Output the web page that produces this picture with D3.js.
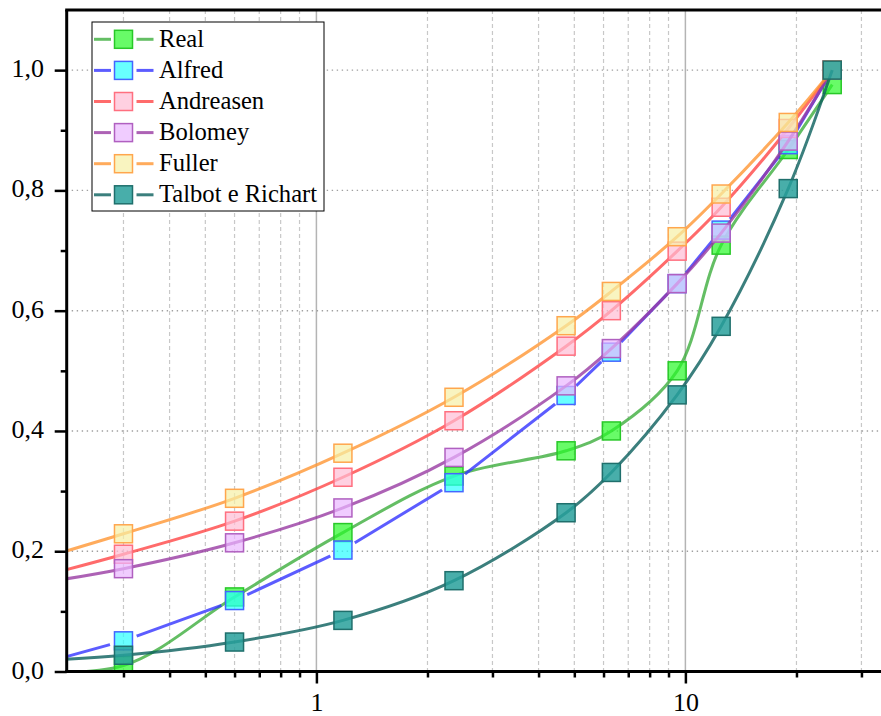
<!DOCTYPE html>
<html>
<head>
<meta charset="utf-8">
<script src="https://cdn.jsdelivr.net/npm/d3@7"></script>
<style>
  body { margin: 0; background: #fff; }
  svg { display: block; }
  svg text { font-family: "Liberation Serif", "Times New Roman", serif; }
</style>
</head>
<body>
<svg id="chart" width="881" height="716"></svg>
<script>
// Sieve openings (mm) and cumulative passing fractions for each grading curve
const sieves    = [0.15, 0.3, 0.6, 1.18, 2.36, 4.75, 6.3, 9.5, 12.5, 19, 25];
const real      = [0.000, 0.010, 0.124, 0.231, 0.325, 0.367, 0.400, 0.500, 0.709, 0.868, 0.976];
const alfred    = [0.000, 0.051, 0.118, 0.202, 0.314, 0.459, 0.531, 0.645, 0.734, 0.876, 1.000];
const andreasen = [0.146, 0.195, 0.250, 0.323, 0.417, 0.541, 0.600, 0.699, 0.772, 0.903, 1.000];
const bolomey   = [0.140, 0.171, 0.214, 0.272, 0.356, 0.475, 0.537, 0.645, 0.729, 0.882, 1.000];
const fuller    = [0.174, 0.229, 0.288, 0.363, 0.456, 0.575, 0.632, 0.723, 0.794, 0.913, 1.000];
const talbot    = [0.016, 0.027, 0.049, 0.085, 0.151, 0.264, 0.331, 0.460, 0.574, 0.803, 1.000];

const seriesNames = ["Real", "Alfred", "Andreasen", "Bolomey", "Fuller", "Talbot e Richart"];
const seriesValues = [real, alfred, andreasen, bolomey, fuller, talbot];

// Axis ticks
const xMajorTicks = [1, 10];
const xMinorTicks = [0.3, 0.4, 0.5, 0.6, 0.7, 0.8, 0.9, 2, 3, 4, 5, 6, 7, 8, 9, 20, 30];
const yMajorTicks = [0, 0.2, 0.4, 0.6, 0.8, 1.0];
const yMinorTicks = [0.1, 0.3, 0.5, 0.7, 0.9];

const styles = [
  { line: "rgb(61,174,61)",  fill: "rgba(40,250,40,0.7)",    stroke: "rgb(40,200,40)",  gap: false, curve: d3.curveCatmullRom.alpha(0.5) },
  { line: "rgb(51,51,255)",  fill: "rgba(40,255,255,0.7)",   stroke: "rgb(68,102,255)", gap: true,  curve: d3.curveLinear },
  { line: "rgb(255,70,70)",  fill: "rgba(255,188,212,0.7)",  stroke: "rgb(255,111,127)",gap: false, curve: d3.curveCatmullRom.alpha(0.5) },
  { line: "rgb(152,59,162)", fill: "rgba(234,182,255,0.7)",  stroke: "rgb(176,96,192)", gap: false, curve: d3.curveCatmullRom.alpha(0.5) },
  { line: "rgb(255,150,51)", fill: "rgba(246,240,165,0.7)",  stroke: "rgb(255,166,77)", gap: false, curve: d3.curveCatmullRom.alpha(0.5) },
  { line: "rgb(10,95,92)",   fill: "rgba(40,160,155,0.85)",  stroke: "rgb(31,111,108)", gap: false, curve: d3.curveCatmullRom.alpha(0.5) }
];

const svg = d3.select("#chart");
const pLeft = 66.7, pRight = 881.5, pTop = 10, pBottom = 671.5;

const x = d3.scaleLog().domain([0.2105, 34]).range([pLeft, pRight]);
const y = d3.scaleLinear().domain([0, 1.1]).range([pBottom, pTop]);

const fontFamily = "Liberation Serif, Times New Roman, serif";
const commaLocale = d3.formatLocale({ decimal: ",", thousands: ".", grouping: [3], currency: ["", ""] });
const yFmt = commaLocale.format(".1f");

// Clip region for the plot area
const defs = svg.append("defs");
defs.append("clipPath").attr("id", "plotClip")
  .append("rect").attr("x", pLeft).attr("y", pTop).attr("width", pRight - pLeft).attr("height", pBottom - pTop);

// Gridlines
const grid = svg.append("g");
grid.selectAll("line.vminor").data(xMinorTicks).join("line")
  .attr("x1", d => x(d)).attr("x2", d => x(d)).attr("y1", pTop).attr("y2", pBottom)
  .attr("stroke", "#c8c8c8").attr("stroke-width", 1.2).attr("stroke-dasharray", "4,3");
grid.selectAll("line.vmajor").data(xMajorTicks).join("line")
  .attr("x1", d => x(d)).attr("x2", d => x(d)).attr("y1", pTop).attr("y2", pBottom)
  .attr("stroke", "#b4b4b4").attr("stroke-width", 1.5);
grid.selectAll("line.h").data(yMajorTicks.filter(d => d > 0)).join("line")
  .attr("x1", pLeft).attr("x2", pRight).attr("y1", d => y(d)).attr("y2", d => y(d))
  .attr("stroke", "#a0a0a0").attr("stroke-width", 1.4).attr("stroke-dasharray", "1.4,3.6");

// Series
const plot = svg.append("g").attr("clip-path", "url(#plotClip)");
const pts = i => sieves.map((s, k) => ({ s, v: seriesValues[i][k] }));

seriesValues.forEach((vals, i) => {
  const st = styles[i];
  const data = pts(i);
  const line = d3.line().x(d => x(d.s)).y(d => y(d.v)).curve(st.curve);
  const g = plot.append("g");
  const path = g.append("path").attr("d", line(data))
    .attr("fill", "none").attr("stroke", st.line).attr("stroke-width", 3)
    .attr("stroke-opacity", 0.8).attr("stroke-linejoin", "round");
  if (st.gap) {
    // Line is interrupted around each symbol
    const mask = defs.append("mask").attr("id", "gapMask" + i).attr("maskUnits", "userSpaceOnUse")
      .attr("x", 0).attr("y", 0).attr("width", 881).attr("height", 716);
    mask.append("rect").attr("x", 0).attr("y", 0).attr("width", 881).attr("height", 716).attr("fill", "#fff");
    mask.selectAll("circle").data(data).join("circle")
      .attr("cx", d => x(d.s)).attr("cy", d => y(d.v)).attr("r", 14).attr("fill", "#000");
    path.attr("mask", "url(#gapMask" + i + ")");
  }
  const inside = data.filter(d => d.s >= x.domain()[0] && d.s <= x.domain()[1]);
  g.selectAll("rect").data(inside).join("rect")
    .attr("x", d => x(d.s) - 9).attr("y", d => y(d.v) - 9)
    .attr("width", 18).attr("height", 18)
    .attr("fill", st.fill).attr("stroke", st.stroke).attr("stroke-width", 1.5);
});

// Axes
const axisG = svg.append("g").attr("font-family", fontFamily);

const xAxis = axisG.append("g").attr("transform", `translate(0,${pBottom})`)
  .call(d3.axisBottom(x).tickValues(xMajorTicks).tickSize(12).tickSizeOuter(0).tickFormat(d3.format("d")));
const xMinor = axisG.append("g").attr("transform", `translate(0,${pBottom})`)
  .call(d3.axisBottom(x).tickValues(xMinorTicks).tickSize(6).tickSizeOuter(0).tickFormat(""));
xMinor.select(".domain").remove();

const yAxis = axisG.append("g").attr("transform", `translate(${pLeft},0)`)
  .call(d3.axisLeft(y).tickValues(yMajorTicks).tickSize(12).tickSizeOuter(0).tickFormat(yFmt));
const yMinor = axisG.append("g").attr("transform", `translate(${pLeft},0)`)
  .call(d3.axisLeft(y).tickValues(yMinorTicks).tickSize(6).tickSizeOuter(0).tickFormat(""));
yMinor.select(".domain").remove();

[xAxis, yAxis].forEach(a => {
  a.select(".domain").attr("stroke", "#000").attr("stroke-width", 3);
});
axisG.selectAll(".tick line").attr("stroke", "#000").attr("stroke-width", 2.5);
axisG.selectAll(".tick text").attr("fill", "#000").attr("font-size", 26).attr("font-family", fontFamily);
xAxis.selectAll(".tick text").attr("y", 39.5).attr("dy", 0);
yAxis.selectAll(".tick text").attr("x", -22.7).attr("dy", 0).attr("y", 6.5);

// Extend axis lines to meet at the corner
xAxis.select(".domain").attr("d", `M${pLeft - 1.5},0H${pRight}`);
yAxis.select(".domain").attr("d", `M0,${pBottom + 1.5}V${pTop}`);

// Top frame line
axisG.append("line").attr("x1", pLeft - 1.5).attr("x2", pRight).attr("y1", pTop).attr("y2", pTop)
  .attr("stroke", "#000").attr("stroke-width", 3);

// Legend
const lg = svg.append("g").attr("font-family", fontFamily);
lg.append("rect").attr("x", 92).attr("y", 22).attr("width", 232).attr("height", 189)
  .attr("fill", "#fff").attr("stroke", "#000").attr("stroke-width", 1);
seriesNames.forEach((name, i) => {
  const st = styles[i];
  const cy = 39.3 + i * 31.1;
  const row = lg.append("g");
  [[94, 111], [136.5, 153.5]].forEach(([a, b]) => {
    row.append("line").attr("x1", a).attr("x2", b).attr("y1", cy).attr("y2", cy)
      .attr("stroke", st.line).attr("stroke-opacity", 0.8).attr("stroke-width", 3);
  });
  row.append("rect").attr("x", 114.5).attr("y", cy - 9).attr("width", 18).attr("height", 18)
    .attr("fill", st.fill).attr("stroke", st.stroke).attr("stroke-width", 1.5);
  row.append("text").attr("x", 159).attr("y", cy + 7.4).attr("font-size", 24.6).attr("fill", "#000").text(name);
});
</script>
</body>
</html>
